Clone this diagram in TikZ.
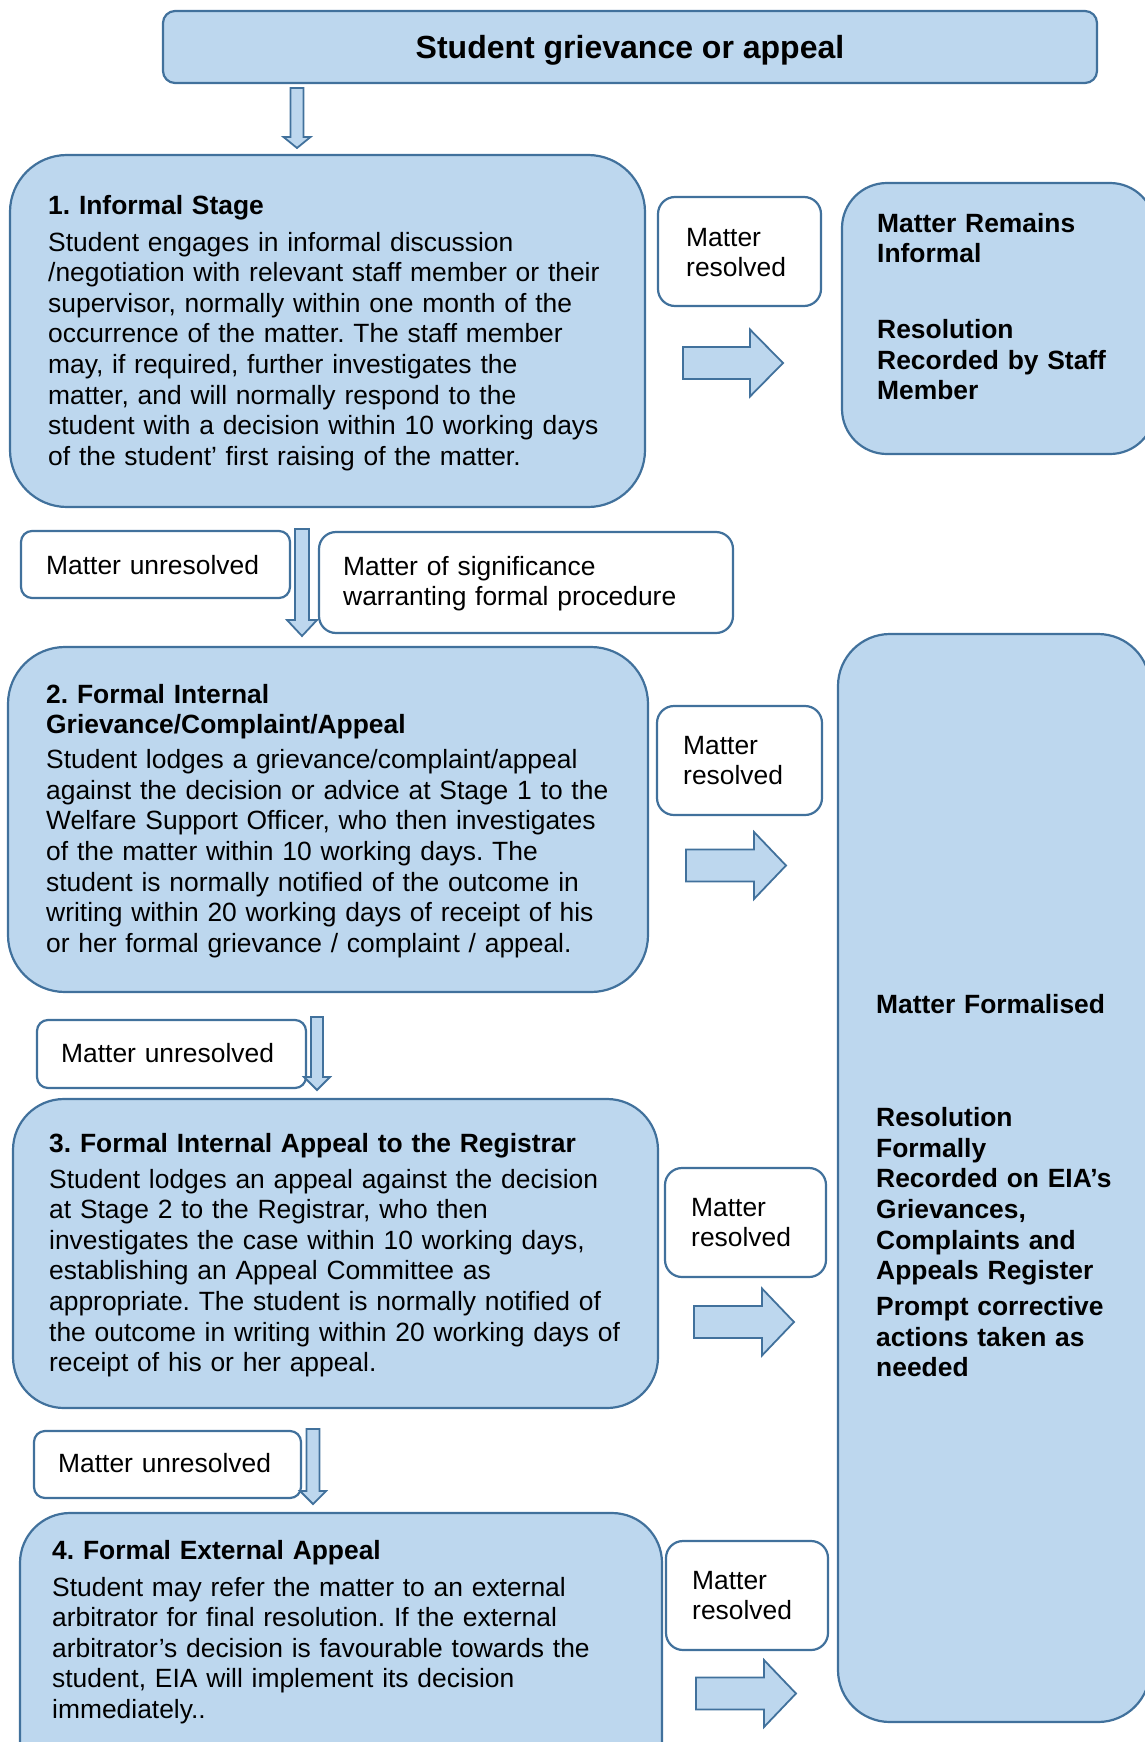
\documentclass[tikz,border=0pt]{standalone}
\usepackage{fontspec}
\setmainfont{Liberation Sans}
\frenchspacing
\definecolor{boxfill}{RGB}{189,215,238}
\definecolor{boxline}{RGB}{65,113,156}
\tikzset{
  rbox/.style={draw=boxline, line width=2.2pt, rectangle, inner sep=0pt},
  bluebox/.style={rbox, fill=boxfill},
  whitebox/.style={rbox, fill=white},
  txt/.style={anchor=base west, inner sep=0pt, text width=640pt, align=left, font=\fontsize{26.4}{30.6}\selectfont\frenchspacing},
  txtb/.style={txt, font=\fontsize{26.4}{30.6}\selectfont\bfseries\frenchspacing},
  blk/.style={draw=boxline, fill=boxfill, line width=1.8pt, line join=miter},
}
\newcommand\blkdown[6]{% cx, ytop, yhead, ytip, shaft half, head half
  \draw[blk] ({#1-#5},{#2}) -- ({#1+#5},{#2}) -- ({#1+#5},{#3}) -- ({#1+#6},{#3}) -- ({#1},{#4}) -- ({#1-#6},{#3}) -- ({#1-#5},{#3}) -- cycle;}
\newcommand\blkright[4]{% xl, xhead, xtip, yc
  \draw[blk] ({#1},{#4-16}) -- ({#2},{#4-16}) -- ({#2},{#4-33.5}) -- ({#3},{#4}) -- ({#2},{#4+33.5}) -- ({#2},{#4+16}) -- ({#1},{#4+16}) -- cycle;}
\begin{document}
\begin{tikzpicture}[x=1pt,y=-1pt]
\useasboundingbox (0,0) rectangle (1145,1742);
\clip (0,0) rectangle (1145,1742);

% boxes
\node[bluebox, rounded corners=12pt, minimum width=934pt, minimum height=72pt] (title) at (630,47) {};
\node[bluebox, rounded corners=57pt, minimum width=635pt, minimum height=352pt] (s1) at (327.5,331) {};
\node[whitebox, rounded corners=17pt, minimum width=163pt, minimum height=109pt] (mr1) at (739.5,251.5) {};
\node[bluebox, rounded corners=45pt, minimum width=313pt, minimum height=271pt] (rb1) at (998.5,318.5) {};
\node[whitebox, rounded corners=11pt, minimum width=269pt, minimum height=67pt] (mu1) at (155.5,564.5) {};
\node[whitebox, rounded corners=17pt, minimum width=414pt, minimum height=101pt] (sig) at (526,582.5) {};
\node[bluebox, rounded corners=57pt, minimum width=640pt, minimum height=345pt] (s2) at (328,819.5) {};
\node[whitebox, rounded corners=17pt, minimum width=165pt, minimum height=109pt] (mr2) at (739.5,760.5) {};
\node[bluebox, rounded corners=52pt, minimum width=312pt, minimum height=1088pt] (big) at (994,1178) {};
\node[whitebox, rounded corners=11pt, minimum width=269pt, minimum height=68pt] (mu2) at (171.5,1054) {};
\node[bluebox, rounded corners=51pt, minimum width=645pt, minimum height=309pt] (s3) at (335.5,1253.5) {};
\node[whitebox, rounded corners=17pt, minimum width=161pt, minimum height=109pt] (mr3) at (745.5,1222.5) {};
\node[whitebox, rounded corners=11pt, minimum width=267pt, minimum height=67pt] (mu3) at (167.5,1464.5) {};
\node[bluebox, rounded corners=50pt, minimum width=642pt, minimum height=277pt] (s4) at (341,1651.5) {};
\node[whitebox, rounded corners=17pt, minimum width=162pt, minimum height=109pt] (mr4) at (747,1595.5) {};

% block arrows
\blkdown{297}{88}{137}{148}{6.5}{13.5}
\blkdown{302}{529}{620}{636}{7}{15}
\blkdown{317}{1017}{1077}{1090}{6}{13}
\blkdown{313}{1429}{1491}{1504}{6.5}{13}
\blkright{683}{750}{783}{363}
\blkright{686}{754}{786}{865.5}
\blkright{694}{762}{794}{1322}
\blkright{696}{764}{796}{1693.5}

% texts
\node[anchor=base, inner sep=0pt, font=\fontsize{32}{36}\selectfont\bfseries] (ttitle) at (630,59) {Student grievance or appeal};

\node[txt] (t1) at (48,214) {\textbf{1. Informal Stage}\\[6.4pt]
Student engages in informal discussion\\
/negotiation with relevant staff member or their\\
supervisor, normally within one month of the\\
occurrence of the matter. The staff member\\
may, if required, further investigates the\\
matter, and will normally respond to the\\
student with a decision within 10 working days\\
of the student’ first raising of the matter.};

\node[txt] (t2) at (46,703) {\textbf{2. Formal Internal}\\
\textbf{Grievance/Complaint/Appeal}\\[4.5pt]
Student lodges a grievance/complaint/appeal\\
against the decision or advice at Stage 1 to the\\
Welfare Support Officer, who then investigates\\
of the matter within 10 working days. The\\
student is normally notified of the outcome in\\
writing within 20 working days of receipt of his\\
or her formal grievance / complaint / appeal.};

\node[txt] (t3) at (49,1152) {\textbf{3. Formal Internal Appeal to the Registrar}\\[5.5pt]
Student lodges an appeal against the decision\\
at Stage 2 to the Registrar, who then\\
investigates the case within 10 working days,\\
establishing an Appeal Committee as\\
appropriate. The student is normally notified of\\
the outcome in writing within 20 working days of\\
receipt of his or her appeal.};

\node[txt] (t4) at (52,1559) {\textbf{4. Formal External Appeal}\\[6.4pt]
Student may refer the matter to an external\\
arbitrator for final resolution. If the external\\
arbitrator’s decision is favourable towards the\\
student, EIA will implement its decision\\
immediately..};

\node[txtb] (trb1) at (877,232) {Matter Remains\\
Informal\\[45.4pt]
Resolution\\
Recorded by Staff\\
Member};

\node[txtb] (tbig) at (876,1013) {Matter Formalised\\[83pt]
Resolution\\
Formally\\
Recorded on EIA’s\\
Grievances,\\
Complaints and\\
Appeals Register\\[5.5pt]
Prompt corrective\\
actions taken as\\
needed};

\node[txt] (tmr1) at (686,246) {Matter\\resolved};
\node[txt] (tmr2) at (683,754) {Matter\\resolved};
\node[txt] (tmr3) at (691,1216) {Matter\\resolved};
\node[txt] (tmr4) at (692,1589) {Matter\\resolved};
\node[txt] (tmu1) at (46,574) {Matter unresolved};
\node[txt] (tmu2) at (61,1062) {Matter unresolved};
\node[txt] (tmu3) at (58,1472) {Matter unresolved};
\node[txt] (tsig) at (343,575) {Matter of significance\\warranting formal procedure};
\end{tikzpicture}
\end{document}
